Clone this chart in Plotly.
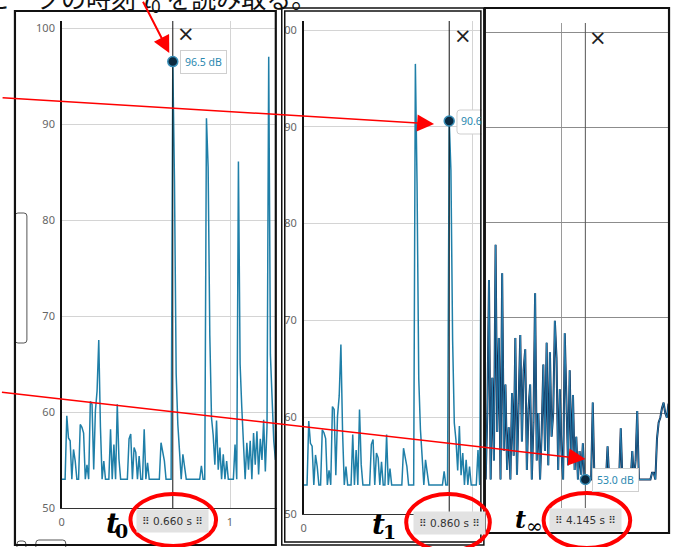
import plotly.graph_objects as go

W, H = 677, 547          # reference picture size (layout coordinates below)
FIG_H = 555              # rendered page height (the capture squeezes it back to 547)
SY = FIG_H / H

# ---------------- data ----------------
T1_START = 0.0          # s, first sample of the recording shown in panels 1 and 2
T3_START = 3.54         # s, first sample of the tail shown in panel 3
DT = 0.01               # s, sample spacing

level_db = [
    53.0, 53.0, 53.0, 59.6, 57.3, 57.0, 53.0, 56.1, 54.9, 53.0,
    53.0, 58.7, 58.4, 57.8, 53.0, 54.5, 53.0, 61.1, 60.8, 54.0,
    60.1, 62.2, 67.5, 58.4, 53.0, 54.9, 53.0, 53.0, 53.0, 58.2,
    53.0, 56.6, 53.0, 60.8, 55.1, 53.0, 53.0, 53.0, 53.0, 53.0,
    57.2, 57.7, 53.0, 56.3, 55.8, 53.0, 55.4, 53.0, 53.0, 58.2,
    53.0, 54.7, 53.0, 53.0, 53.0, 53.0, 53.0, 53.0, 53.0, 56.8,
    55.9, 54.9, 53.0, 53.0, 53.0, 53.0, 96.5, 84.0, 64.0, 58.7,
    55.9, 53.0, 55.6, 54.5, 53.0, 53.0, 53.0, 53.0, 53.0, 53.0,
    53.0, 53.0, 53.0, 54.4, 53.0, 53.0, 90.6, 85.5, 68.0, 59.4,
    57.6, 54.5, 59.1, 54.0, 56.3, 53.0, 55.6, 53.0, 54.9, 53.0,
    53.0, 53.0, 53.0, 56.6, 53.0, 86.1, 65.0, 60.5, 56.3, 53.0,
    56.8, 54.0, 57.0, 53.0, 57.8, 54.5, 58.0, 53.5, 57.2, 55.0,
    59.2, 53.8, 58.5, 97.0, 66.0, 61.0, 57.0, 55.0, 58.0,
]

tail_db = [
    53.0, 60.0, 74.0, 53.0, 63.7, 55.0, 77.7, 58.0, 67.9, 53.0,
    74.7, 56.0, 63.0, 54.0, 58.5, 53.0, 62.1, 55.5, 67.9, 53.5,
    61.0, 68.2, 57.0, 64.5, 66.7, 54.0, 60.5, 63.0, 53.0, 59.0,
    72.6, 55.0, 60.0, 53.0, 58.0, 65.1, 56.0, 67.4, 54.5, 66.4,
    57.5, 60.0, 69.7, 65.8, 54.0, 62.5, 56.0, 53.0, 68.4, 62.0,
    54.5, 64.5, 55.0, 61.9, 54.0, 57.5, 53.0, 56.0, 53.5, 56.8,
    53.0, 53.0, 53.0, 53.0, 53.0, 61.1, 53.0, 53.0, 53.0, 53.0,
    53.0, 53.0, 53.0, 53.0, 56.5, 53.0, 53.0, 53.0, 53.0, 53.0,
    53.0, 53.0, 58.4, 53.0, 53.0, 53.0, 53.0, 53.0, 53.0, 56.0,
    53.0, 55.0, 60.2, 53.0, 53.0, 53.0, 53.0, 53.0, 53.0, 53.0,
    53.0, 53.7, 53.7, 53.0, 57.3, 59.0, 59.5, 60.5, 61.1, 60.0,
    59.5, 61.0,
]

cursor_times = [0.660, 0.860, 4.145]
cursor_values = [96.5, 90.6, 53.0]
cursor_labels = ["0.660 s", "0.860 s", "4.145 s"]
value_labels = ["96.5 dB", "90.6", "53.0 dB"]
t_subs = ["0", "1", "∞"]
y_ticks = [50, 60, 70, 80, 90, 100]
x_ticks = [0, 1, 2, 3, 4, 5]
caption = "ピークの時刻 <i>t</i><sub>0</sub> を読み取る。"

t1 = [round(T1_START + DT * i, 2) for i in range(len(level_db))]
t3 = [round(T3_START + DT * i, 2) for i in range(len(tail_db))]

# ---------------- helpers ----------------
def PX(p):
    return p / W

def PY(p):
    return 1 - p / H

TEAL = "#1f7fa8"
NAVY = "#10244a"
GRID = "#d4d4d4"
TICKFONT = dict(family="Noto Sans", size=11, color="#666666")

fig = go.Figure()

for xa, ya in (("x", "y"), ("x2", "y2")):
    fig.add_trace(go.Scatter(x=t1, y=level_db, mode="lines",
                             line=dict(color=TEAL, width=1.5),
                             xaxis=xa, yaxis=ya, hoverinfo="skip"))
fig.add_trace(go.Scatter(x=t3, y=tail_db, mode="lines",
                         line=dict(color=NAVY, width=2.0),
                         xaxis="x3", yaxis="y3", hoverinfo="skip"))
fig.add_trace(go.Scatter(x=t3, y=tail_db, mode="lines",
                         line=dict(color="#2a8abb", width=0.9),
                         xaxis="x3", yaxis="y3", hoverinfo="skip"))

axes_ids = [("x", "y"), ("x2", "y2"), ("x3", "y3")]

cursor_colors = ["#111111", "#111111", "#555555"]
y_tops = [100.73, 100.93, 101.05]
for (xa, ya), ct, cc, yt in zip(axes_ids, cursor_times, cursor_colors, y_tops):
    fig.add_trace(go.Scatter(x=[ct, ct], y=[48.0, yt], mode="lines",
                             line=dict(color=cc, width=1), cliponaxis=False,
                             xaxis=xa, yaxis=ya, hoverinfo="skip"))

for (xa, ya), ct, cv in zip(axes_ids, cursor_times, cursor_values):
    fig.add_trace(go.Scatter(x=[ct], y=[cv], mode="markers",
                             marker=dict(size=10, color="#0b2a40",
                                         line=dict(color="#3a8fb8", width=1.5)),
                             xaxis=xa, yaxis=ya, hoverinfo="skip"))

common_x = dict(tickvals=x_ticks, showgrid=True, gridcolor=GRID, zeroline=False,
                ticks="", tickfont=TICKFONT, ticklabelstandoff=4)
common_y = dict(tickvals=y_ticks, showgrid=True, gridcolor=GRID, zeroline=False,
                ticks="", tickfont=TICKFONT, ticklabelstandoff=3)

fig.update_layout(
    width=W, height=FIG_H, autosize=False,
    margin=dict(l=0, r=0, t=0, b=0),
    paper_bgcolor="white", plot_bgcolor="white",
    showlegend=False,
    xaxis=dict(domain=[PX(59), PX(275)], range=[0, 1.278], anchor="y",
               showline=True, linecolor="#333333", linewidth=1, **common_x),
    yaxis=dict(domain=[PY(507), PY(20)], range=[50, 100.73], anchor="x",
               showline=True, linecolor="#111111", linewidth=1.6, **common_y),
    xaxis2=dict(domain=[PX(302), PX(480)], range=[0, 1.047], anchor="y2",
                showline=True, linecolor="#333333", linewidth=1, **common_x),
    yaxis2=dict(domain=[PY(513), PY(20)], range=[50, 100.93], anchor="x2",
                showline=True, linecolor="#111111", linewidth=1.6, **common_y),
    xaxis3=dict(domain=[PX(485), PX(668)], range=[3.541, 4.647], anchor="y3",
                showline=False, **{**common_x, "gridcolor": "#9a9a9a"}),
    yaxis3=dict(domain=[PY(507), PY(22)], range=[50, 101.05], anchor="x3",
                showline=False, showticklabels=False,
                **{**common_y, "gridcolor": "#8c8c8c"}),
)

shapes = []

shapes.append(dict(type="rect", xref="paper", yref="paper",
                   x0=PX(274.5), x1=PX(283), y0=PY(40), y1=PY(15),
                   fillcolor="white", line=dict(width=0), layer="above"))

x_l, x_r, y_t, y_b, r = 456, 481, 109, 133, 3
path = (f"M {PX(x_r)},{PY(y_t)} L {PX(x_l + r)},{PY(y_t)} "
        f"Q {PX(x_l)},{PY(y_t)} {PX(x_l)},{PY(y_t + r)} "
        f"L {PX(x_l)},{PY(y_b - r)} Q {PX(x_l)},{PY(y_b)} {PX(x_l + r)},{PY(y_b)} "
        f"L {PX(x_r)},{PY(y_b)}")
shapes.append(dict(type="path", xref="paper", yref="paper", path=path,
                   line=dict(color="#cfcfcf", width=1), fillcolor="white",
                   layer="above"))

def rrect(x0, y0, x1, y1, r=3):
    return (f"M {PX(x0 + r)},{PY(y0)} L {PX(x1 - r)},{PY(y0)} "
            f"Q {PX(x1)},{PY(y0)} {PX(x1)},{PY(y0 + r)} L {PX(x1)},{PY(y1 - r)} "
            f"Q {PX(x1)},{PY(y1)} {PX(x1 - r)},{PY(y1)} L {PX(x0 + r)},{PY(y1)} "
            f"Q {PX(x0)},{PY(y1)} {PX(x0)},{PY(y1 - r)} L {PX(x0)},{PY(y0 + r)} "
            f"Q {PX(x0)},{PY(y0)} {PX(x0 + r)},{PY(y0)} Z")

for box in [(12, 212, 24, 342), (14, 540, 23, 552), (33, 539, 63, 552)]:
    shapes.append(dict(type="path", xref="paper", yref="paper", path=rrect(*box),
                       line=dict(color="#555555", width=1), fillcolor="white",
                       layer="above"))

frames = [
    (12, 10, 274, 544, 2.2),
    (280, 7, 483, 544, 1.5),
    (283, 10, 480, 541, 1.5),
    (484, 7, 669, 532, 2.2),
]
for x0, y0, x1, y1, lw in frames:
    shapes.append(dict(type="rect", xref="paper", yref="paper",
                       x0=PX(x0), x1=PX(x1), y0=PY(y1), y1=PY(y0),
                       line=dict(color="#111111", width=lw),
                       fillcolor="rgba(0,0,0,0)", layer="above"))

ellipses = [(128, 493, 214, 545), (405, 493, 489, 550), (543, 492, 630, 547)]
for x0, y0, x1, y1 in ellipses:
    shapes.append(dict(type="circle", xref="paper", yref="paper",
                       x0=PX(x0), x1=PX(x1), y0=PY(y1), y1=PY(y0),
                       line=dict(color="#ff0000", width=4), layer="above"))

fig.update_layout(shapes=shapes)

ann = []
ann.append(dict(xref="paper", yref="paper", x=PX(316), y=PY(19),
                xanchor="right", yanchor="bottom", showarrow=False,
                text=caption,
                font=dict(family="Noto Sans CJK JP", size=25, color="#111111")))

for (xa, ya), ct, lab, cy in zip(axes_ids, cursor_times, cursor_labels, [520, 522, 519]):
    ann.append(dict(xref=xa, yref="paper", x=ct, y=PY(cy), showarrow=False,
                    xanchor="center", yanchor="middle",
                    text="⠿ " + lab + " ⠿", bgcolor="#e2e2e2", borderpad=5,
                    font=dict(family="DejaVu Sans", size=10.5, color="#333333")))

for i, ((xa, ya), ct, cv, lab) in enumerate(zip(axes_ids, cursor_times, cursor_values, value_labels)):
    d = dict(xref=xa, yref=ya, x=ct, y=cv, xanchor="left", yanchor="middle",
             showarrow=False, text=lab,
             font=dict(family="Noto Sans", size=10.5, color="#2a88b0"))
    if i == 1:
        d.update(xshift=10)
    else:
        d.update(xshift=7, bgcolor="white", bordercolor="#cfcfcf",
                 borderwidth=1, borderpad=4)
    ann.append(d)

for xp, yp in [(184, 33), (462, 35), (598, 37)]:
    ann.append(dict(xref="paper", yref="paper", x=PX(xp), y=PY(yp),
                    xanchor="center", yanchor="middle", showarrow=False,
                    text="×",
                    font=dict(family="DejaVu Sans", size=21, color="#222222")))

t_specs = [((110, 522, 28), (119, 530, 19)),
           ((377, 523, 28), (388, 531, 19)),
           ((520, 518, 24), (534, 525, 20))]
for ((tx, ty, ts), (sx, sy, ss)), sub in zip(t_specs, t_subs):
    ann.append(dict(xref="paper", yref="paper", x=PX(tx), y=PY(ty),
                    xanchor="center", yanchor="middle", showarrow=False,
                    text="<b><i>t</i></b>",
                    font=dict(family="DejaVu Serif", size=ts, color="#000000")))
    ann.append(dict(xref="paper", yref="paper", x=PX(sx), y=PY(sy),
                    xanchor="center", yanchor="middle", showarrow=False,
                    text=f"<b>{sub}</b>" if sub != "∞" else sub,
                    font=dict(family="DejaVu Serif", size=ss, color="#000000")))

arrows = [((167, 52), (-27, -52), 2.0), ((433, 123), (-433, -26), 1.5),
          ((585, 458), (-585, -66), 1.5)]
for (hx, hy), (ax, ay), lw in arrows:
    ann.append(dict(xref="paper", yref="paper", x=PX(hx), y=PY(hy),
                    ax=ax, ay=ay * SY, text="", showarrow=True, arrowhead=2,
                    arrowsize=3.4 / lw, arrowwidth=lw, arrowcolor="#ff0000",
                    standoff=0))

fig.update_layout(annotations=ann)

fig.write_html(
    "out.html",
    config={"displayModeBar": False, "staticPlot": True},
    post_script=(
        "var d=document.documentElement, b=document.body;"
        "d.style.margin='0'; d.style.padding='0'; d.style.overflow='hidden';"
        "b.style.margin='0'; b.style.padding='0'; b.style.overflow='hidden';"
    ),
)
